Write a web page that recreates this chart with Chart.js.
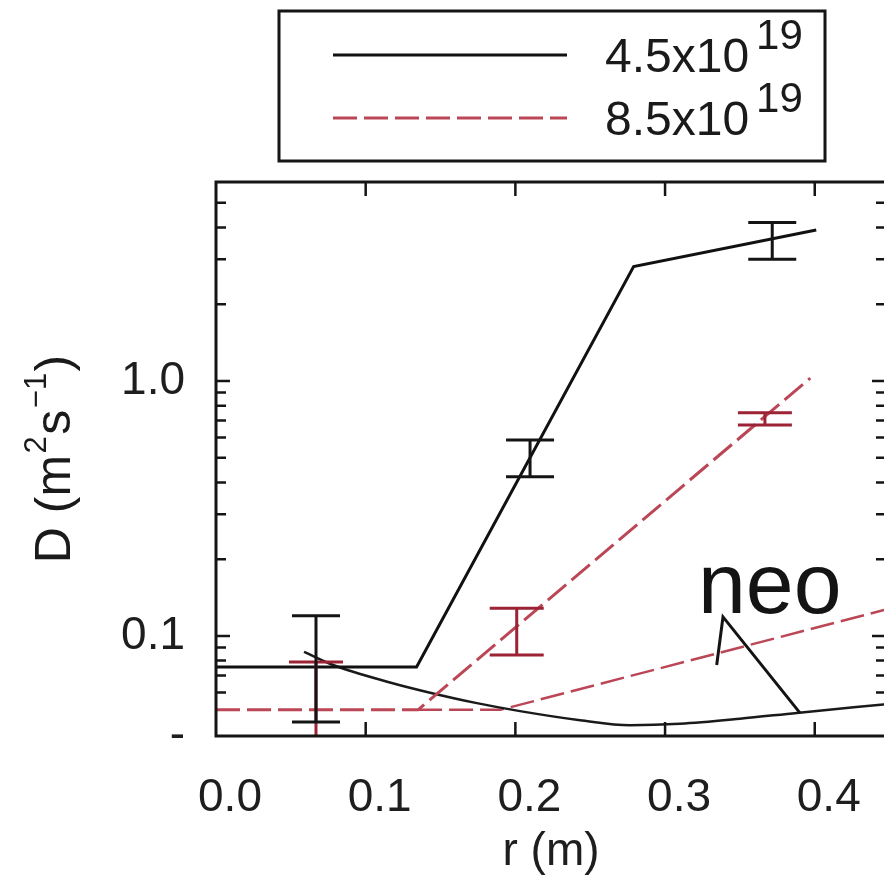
<!DOCTYPE html>
<html>
<head>
<meta charset="utf-8">
<script src="https://cdn.jsdelivr.net/npm/chart.js@4.4.1/dist/chart.umd.min.js"></script>
<style>
  html, body { margin: 0; padding: 0; background: #fff; overflow: hidden; }
  #wrap { width: 900px; height: 882px; }
</style>
</head>
<body>
<div id="wrap"><canvas id="diffChart" width="900" height="882"></canvas></div>
<script>
// radius r (m) and diffusivity D (m^2 s^-1)
const rLow = [0.0, 0.134, 0.279, 0.401];
const dLow = [0.0756, 0.0756, 2.81, 3.91];

const rHigh = [0.0, 0.135, 0.397];
const dHigh = [0.0513, 0.0513, 1.025];

// neoclassical values
const rNeoLow = [0.0588, 0.0782, 0.1162, 0.143, 0.1743, 0.2031, 0.2432, 0.2766, 0.310, 0.350, 0.388, 0.4476];
const dNeoLow = [0.0866, 0.0769, 0.0657, 0.0599, 0.0545, 0.0507, 0.0467, 0.0446, 0.0452, 0.0473, 0.0499, 0.0540];

const rNeoHigh = [0.135, 0.19, 0.4476];
const dNeoHigh = [0.0513, 0.0513, 0.127];

// measured points with error bars
const errLowR = [0.0668, 0.2098, 0.3716];
const errLowMin = [0.046, 0.421, 3.0];
const errLowMax = [0.12, 0.587, 4.18];

const errHighR = [0.0668, 0.2009, 0.3667];
const errHighMin = [0.0333, 0.0842, 0.672];
const errHighMax = [0.079, 0.1284, 0.751];

const xTicks = [0.0, 0.1, 0.2, 0.3, 0.4];
const yMin = 0.0405, yMax = 6.03;
const yTicks = [yMin, 0.06, 0.07, 0.08, 0.09, 0.1, 0.2, 0.3, 0.4, 0.5, 0.6, 0.7, 0.8, 0.9, 1, 2, 3, 4, 5];
const yLabeled = { 0.1: '0.1', 1: '1.0' };

const legendBase = ['4.5x10', '8.5x10'];
const legendExp = ['19', '19'];

// y title pieces: [text, superscript?]
const yTitle = [['D (m', false], ['2', true], ['s', false], ['\u22121', true], [')', false]];

// "neo" label and its pointer, in data units
const neoText = [0.322, 0.123];
const neoTip = [0.3387, 0.1187];
const neoEnd = [0.3901, 0.0499];
const neoHead = [0.3345, 0.0769];

const FONT = "'Liberation Sans', Arial, Helvetica, sans-serif";
const INK = '#1a1a1a';
const RED = '#bb4656';
const RED_BAR = '#9b2335';
const DASH = [24, 7];

const pts = (xs, ys) => xs.map((v, i) => ({ x: v, y: ys[i] }));

const errorBars = {
    id: 'errorBars',
    afterDatasetsDraw(chart) {
        const { ctx, chartArea: a, scales: { x, y } } = chart;
        ctx.save();
        ctx.beginPath();
        ctx.rect(a.left, a.top, a.right - a.left, a.bottom - a.top);
        ctx.clip();
        const draw = (rs, lo, hi, color, half) => {
            ctx.strokeStyle = color;
            ctx.lineWidth = 3;
            ctx.beginPath();
            rs.forEach((r, i) => {
                const px = x.getPixelForValue(r);
                const y0 = y.getPixelForValue(lo[i]);
                const y1 = y.getPixelForValue(hi[i]);
                ctx.moveTo(px, y0); ctx.lineTo(px, y1);
                ctx.moveTo(px - half, y0); ctx.lineTo(px + half, y0);
                ctx.moveTo(px - half, y1); ctx.lineTo(px + half, y1);
            });
            ctx.stroke();
        };
        draw(errHighR, errHighMin, errHighMax, RED_BAR, 27);
        draw(errLowR, errLowMin, errLowMax, '#141414', 24);

        // neo pointer
        ctx.strokeStyle = '#141414';
        ctx.lineWidth = 3;
        ctx.beginPath();
        ctx.moveTo(x.getPixelForValue(neoEnd[0]), y.getPixelForValue(neoEnd[1]));
        ctx.lineTo(x.getPixelForValue(neoTip[0]), y.getPixelForValue(neoTip[1]));
        ctx.lineTo(x.getPixelForValue(neoHead[0]), y.getPixelForValue(neoHead[1]));
        ctx.stroke();
        ctx.fillStyle = '#141414';
        ctx.font = '86px ' + FONT;
        ctx.textBaseline = 'alphabetic';
        ctx.fillText('neo', x.getPixelForValue(neoText[0]), y.getPixelForValue(neoText[1]));
        ctx.restore();
    }
};

// box frame with inward tick marks on all four sides, plus the y title
const frameTicks = {
    id: 'frameTicks',
    afterDraw(chart) {
        const { ctx, chartArea: a, scales: { x, y } } = chart;
        ctx.save();
        ctx.strokeStyle = '#151515';
        ctx.lineWidth = 3;
        ctx.strokeRect(a.left, a.top, a.right - a.left, a.bottom - a.top);
        ctx.lineWidth = 2.5;
        ctx.beginPath();
        x.ticks.forEach(t => {
            const px = x.getPixelForValue(t.value);
            if (px <= a.left + 2 || px >= a.right - 2) return;
            ctx.moveTo(px, a.bottom); ctx.lineTo(px, a.bottom - 14);
            ctx.moveTo(px, a.top); ctx.lineTo(px, a.top + 14);
        });
        y.ticks.forEach(t => {
            const py = y.getPixelForValue(t.value);
            if (py <= a.top + 2 || py >= a.bottom - 2) return;
            const len = yLabeled[t.value] ? 14 : 10;
            ctx.moveTo(a.left, py); ctx.lineTo(a.left + len, py);
            ctx.moveTo(a.right, py); ctx.lineTo(a.right - len, py);
        });
        ctx.stroke();

        // rotated y title with real superscripts
        const mainFont = '50px ' + FONT, supFont = '31px ' + FONT;
        let total = 0;
        const widths = yTitle.map(([s, sup]) => {
            ctx.font = sup ? supFont : mainFont;
            const w = ctx.measureText(s).width + (sup ? 3 : 0);
            total += w;
            return w;
        });
        ctx.translate(70, (a.top + a.bottom) / 2);
        ctx.rotate(-Math.PI / 2);
        ctx.fillStyle = INK;
        ctx.textBaseline = 'alphabetic';
        let cx = -total / 2;
        yTitle.forEach(([s, sup], i) => {
            ctx.font = sup ? supFont : mainFont;
            ctx.fillText(s, cx + (sup ? 1.5 : 0), sup ? -24 : 0);
            cx += widths[i];
        });
        ctx.restore();
    }
};

const boxLegend = {
    id: 'boxLegend',
    afterDraw(chart) {
        const { ctx } = chart;
        const rows = [55, 118];
        ctx.save();
        ctx.strokeStyle = '#151515';
        ctx.lineWidth = 3;
        ctx.strokeRect(279, 11, 546, 150);
        [0, 1].forEach(i => {
            const ds = chart.data.datasets[i];
            ctx.strokeStyle = ds.borderColor;
            ctx.lineWidth = 3;
            ctx.setLineDash(ds.borderDash || []);
            ctx.beginPath();
            ctx.moveTo(333, rows[i]);
            ctx.lineTo(567, rows[i]);
            ctx.stroke();
            ctx.setLineDash([]);
            ctx.fillStyle = INK;
            ctx.textBaseline = 'alphabetic';
            ctx.font = '48px ' + FONT;
            ctx.fillText(legendBase[i], 605, rows[i] + 17);
            const w = ctx.measureText(legendBase[i]).width;
            ctx.font = '42px ' + FONT;
            ctx.fillText(legendExp[i], 605 + w + 7, rows[i] - 6);
        });
        ctx.restore();
    }
};

Chart.defaults.font.family = FONT;
Chart.defaults.color = '#1e1e1e';

const diffChart = new Chart(document.getElementById('diffChart'), {
    type: 'line',
    data: {
        datasets: [
            { label: legendBase[0], data: pts(rLow, dLow), borderColor: '#111', borderWidth: 3 },
            { label: legendBase[1], data: pts(rHigh, dHigh), borderColor: RED, borderWidth: 3, borderDash: DASH },
            { label: 'neo', data: pts(rNeoLow, dNeoLow), borderColor: INK, borderWidth: 2.5, cubicInterpolationMode: 'monotone' },
            { label: 'neo', data: pts(rNeoHigh, dNeoHigh), borderColor: RED, borderWidth: 2.5, borderDash: DASH }
        ]
    },
    options: {
        responsive: false,
        animation: false,
        devicePixelRatio: 1,
        elements: { point: { radius: 0 }, line: { tension: 0 } },
        layout: { padding: { top: 182, right: 14, left: 0, bottom: 0 } },
        plugins: { legend: { display: false }, tooltip: { enabled: false } },
        scales: {
            x: {
                type: 'linear',
                min: 0,
                max: 0.4476,
                afterBuildTicks: s => { s.ticks = xTicks.map(v => ({ value: v })); },
                afterFit: s => { s.height = 146; },
                grid: { display: false, drawTicks: false },
                border: { display: false },
                ticks: {
                    font: { size: 46 },
                    padding: 35,
                    labelOffset: 14,
                    maxRotation: 0,
                    callback: v => v.toFixed(1)
                },
                title: { display: true, text: 'r (m)', font: { size: 46 }, padding: { top: 0, bottom: 2 } }
            },
            y: {
                type: 'logarithmic',
                min: yMin,
                max: yMax,
                afterBuildTicks: s => { s.ticks = yTicks.map(v => ({ value: v })); },
                afterFit: s => { s.width = 216; },
                grid: { display: false, drawTicks: false },
                border: { display: false },
                ticks: {
                    font: { size: 46 },
                    padding: 31,
                    autoSkip: false,
                    callback: v => v === yMin ? '-' : (yLabeled[v] || '')
                },
                title: { display: false }
            }
        }
    },
    plugins: [errorBars, frameTicks, boxLegend]
});
</script>
</body>
</html>
